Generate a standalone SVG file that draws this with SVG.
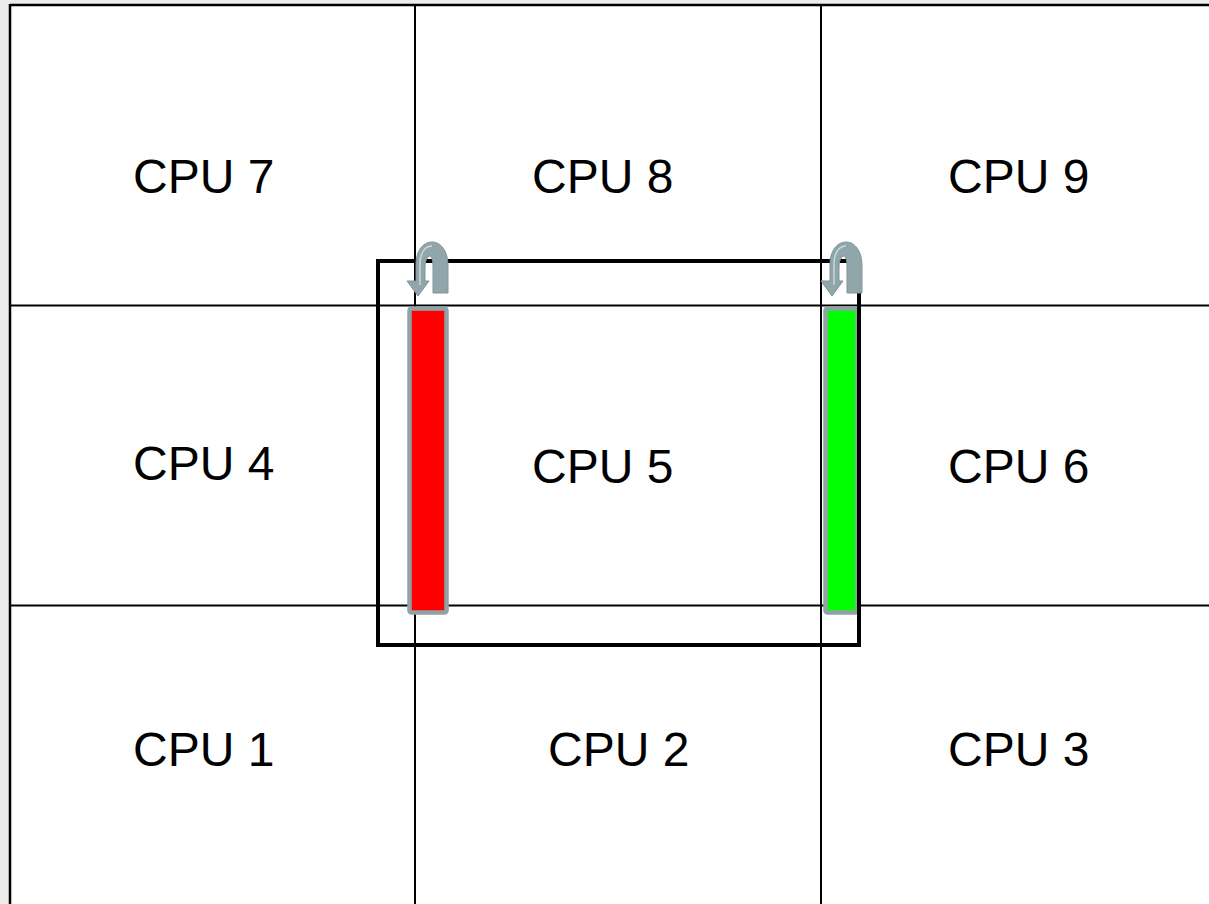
<svg xmlns="http://www.w3.org/2000/svg" width="1209" height="904" viewBox="0 0 1209 904">
<style>
.bg{fill:#ffffff}
.grid{stroke:#000;stroke-width:2;fill:none}
.edge{stroke:#000;stroke-width:2.5;fill:none}
.lbl{font-family:"Liberation Sans",Arial,sans-serif;font-size:48px;fill:#000}
.bar{stroke:#8fa3a6;stroke-width:4.5}
.box{stroke:#000;stroke-width:4;fill:none}
.arrow{fill:#91a6aa;stroke:#7f9599;stroke-width:1}
.hl{fill:none;stroke:#c8d8da;stroke-width:1.5}
</style>
<defs>
<g id="uarrow">
<path class="arrow" d="M448,293 L448,266 C448,251 441,242 432,242 C423,242 416,251 416,264 L416,281 L407,281 L418,296 L429,281 L425,281 L425,268 C425,261 427,256 430,256 C432,256 433,261 433,268 L433,293 Z"/>
<path class="hl" d="M420,285 L420,264 C420,253 425,246 432,246"/>
</g>
</defs>
<rect x="0" y="0" width="1209" height="904" fill="#ececec"/>
<rect class="bg" x="10" y="5" width="1199" height="899"/>
<g id="connectors">
<line class="grid" x1="415" y1="5" x2="415" y2="904"/>
<line class="grid" x1="821" y1="5" x2="821" y2="904"/>
<line class="grid" x1="10" y1="305.5" x2="1209" y2="305.5"/>
<line class="grid" x1="10" y1="605.5" x2="1209" y2="605.5"/>
<line class="edge" x1="10" y1="5" x2="1209" y2="5"/>
<line class="edge" x1="10" y1="4" x2="10" y2="904"/>
</g>
<g id="cpu7"><text class="lbl" x="133" y="193">CPU 7</text></g>
<g id="cpu8"><text class="lbl" x="532" y="193">CPU 8</text></g>
<g id="cpu9"><text class="lbl" x="948" y="193">CPU 9</text></g>
<g id="cpu4"><text class="lbl" x="133" y="480">CPU 4</text></g>
<g id="cpu5"><text class="lbl" x="532" y="483">CPU 5</text></g>
<g id="cpu6"><text class="lbl" x="948" y="483">CPU 6</text></g>
<g id="cpu1"><text class="lbl" x="133" y="766">CPU 1</text></g>
<g id="cpu2"><text class="lbl" x="548" y="766">CPU 2</text></g>
<g id="cpu3"><text class="lbl" x="948" y="766">CPU 3</text></g>
<g id="redbar"><rect class="bar" x="409.5" y="308.5" width="37" height="304" rx="2" fill="#ff0000"/></g>
<g id="greenbar"><rect class="bar" x="825.5" y="308.5" width="32" height="304" rx="2" fill="#00ff00"/></g>
<g id="halo"><rect class="box" x="378" y="261" width="481" height="384"/></g>
<g id="arrowleft"><use href="#uarrow"/></g>
<g id="arrowright"><use href="#uarrow" transform="translate(414,0)"/></g>
</svg>
